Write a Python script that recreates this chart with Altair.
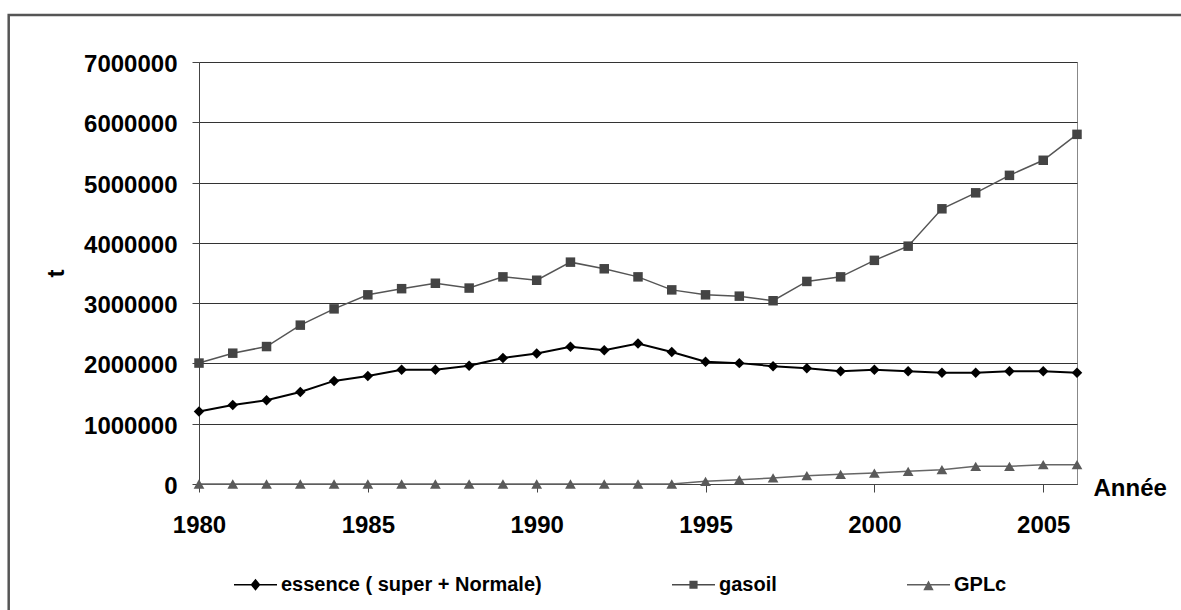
import altair as alt
import pandas as pd

years = list(range(1980, 2007))
series_names = ["essence ( super + Normale)", "gasoil", "GPLc"]

essence = [1204000, 1310000, 1390000, 1525000, 1710000, 1790000, 1895000, 1895000,
           1960000, 2090000, 2165000, 2275000, 2220000, 2330000, 2190000, 2027000,
           2005000, 1955000, 1920000, 1870000, 1895000, 1870000, 1845000, 1845000,
           1870000, 1870000, 1845000]
gasoil = [2006000, 2170000, 2280000, 2635000, 2905000, 3138000, 3240000, 3330000,
          3250000, 3436000, 3380000, 3680000, 3570000, 3436000, 3220000, 3138000,
          3116000, 3040000, 3360000, 3436000, 3710000, 3945000, 4565000, 4830000,
          5120000, 5370000, 5800000]
gplc = [0, 0, 0, 0, 0, 0, 0, 0, 0, 0, 0, 0, 0, 0, 0, 45000, 72000, 100000, 138000,
        160000, 182000, 210000, 238000, 293000, 293000, 320000, 320000]

x_ticks = [1980, 1985, 1990, 1995, 2000, 2005]
y_ticks = [0, 1000000, 2000000, 3000000, 4000000, 5000000, 6000000, 7000000]

line_colors = ["#000000", "#555555", "#666666"]
line_widths = [2, 1.5, 1.5]
marker_colors = ["#000000", "#444444", "#5a5a5a"]
legend_colors = ["#000000", "#4a4a4a", "#5e5e5e"]

rows = []
for name, vals in zip(series_names, [essence, gasoil, gplc]):
    for yr, v in zip(years, vals):
        rows.append({"year": yr, "series": name, "value": v})
df = pd.DataFrame(rows)

FONT = "Liberation Sans"

x_enc = alt.X(
    "year:Q",
    scale=alt.Scale(domain=[1980, 2006], nice=False, zero=False),
    axis=alt.Axis(
        values=x_ticks, format="d", grid=False, labelFlush=False, labelOverlap=False,
        tickSize=8, labelPadding=21, domainColor="#444444", tickColor="#444444",
        title="Année", titleX=894, titleY=11, titleAlign="left",
        titleBaseline="alphabetic", titleAngle=0,
    ),
)
y_enc = alt.Y(
    "value:Q",
    scale=alt.Scale(domain=[0, 7000000], nice=False),
    axis=alt.Axis(
        values=y_ticks, format="d", grid=True, gridColor="#333333", gridWidth=1,
        tickSize=7, labelPadding=15, labelOffset=2.5, domainColor="#444444",
        tickColor="#444444", labelFlush=False, labelOverlap=False,
        title="t", titleX=-136, titleY=211, titleAngle=-90, titleAlign="center",
        titleBaseline="alphabetic",
    ),
)

base = alt.Chart(df)

line_layers = []
for i, (name, col, w) in enumerate(zip(series_names, line_colors, line_widths)):
    enc = dict(x=x_enc, y=y_enc) if i == 0 else dict(x="year:Q", y="value:Q")
    line_layers.append(
        base.transform_filter(alt.datum.series == name)
        .mark_line(color=col, strokeWidth=w)
        .encode(**enc)
    )

shapes = ["diamond", "square", "triangle-up"]
sizes = [110, 90, 115]
point_layers = []
for name, shp, sz, col in zip(series_names, shapes, sizes, marker_colors):
    point_layers.append(
        base.transform_filter(alt.datum.series == name)
        .mark_point(shape=shp, filled=True, size=sz, color=col, opacity=1)
        .encode(x="year:Q", y="value:Q")
    )

# legend glyphs: thin filled bar (the line) + marker, in the -1..1 symbol box
legend_paths = [
    "M-1,-0.035H1V0.035H-1ZM0,-0.28L0.23,0L0,0.28L-0.23,0Z",
    "M-1,-0.035H1V0.035H-1ZM-0.19,-0.19H0.19V0.19H-0.19Z",
    "M-1,-0.035H1V0.035H-1ZM0,-0.2L0.24,0.26H-0.24Z",
]


def make_legend():
    return alt.Legend(
        title=None, orient="none", legendX=35, legendY=501, direction="horizontal",
        symbolSize=1849, symbolStrokeWidth=0, symbolOpacity=1, labelOffset=4,
        columnPadding=130, padding=0, labelLimit=500, labelFont=FONT,
        labelFontSize=20, labelFontWeight="bold", labelColor="black",
        labelBaseline="middle",
    )


legend_layer = base.mark_point(opacity=0, filled=True).encode(
    x="year:Q",
    y="value:Q",
    color=alt.Color("series:N", scale=alt.Scale(domain=series_names, range=legend_colors),
                    legend=make_legend()),
    shape=alt.Shape("series:N", scale=alt.Scale(domain=series_names, range=legend_paths),
                    legend=make_legend()),
)

frame = alt.Chart(pd.DataFrame({"a": [0]})).mark_rect(
    fillOpacity=0, stroke="#555555", strokeWidth=2.5
).encode(x=alt.value(-190.3), x2=alt.value(1100), y=alt.value(-47), y2=alt.value(700))

chart = alt.layer(frame, *line_layers, *point_layers, legend_layer).properties(
    width=878,
    height=422,
    autosize=alt.AutoSizeParams(type="none"),
    padding={"left": 199, "top": 62, "right": 104, "bottom": 126},
    background="white",
).configure_view(
    stroke="#888888", strokeWidth=1
).configure_axis(
    labelFont=FONT, labelFontSize=24, labelFontWeight="bold", labelColor="black",
    titleFont=FONT, titleFontSize=24, titleFontWeight="bold", titleColor="black",
)

chart.save("out.html", embed_options={"renderer": "svg", "actions": False})
